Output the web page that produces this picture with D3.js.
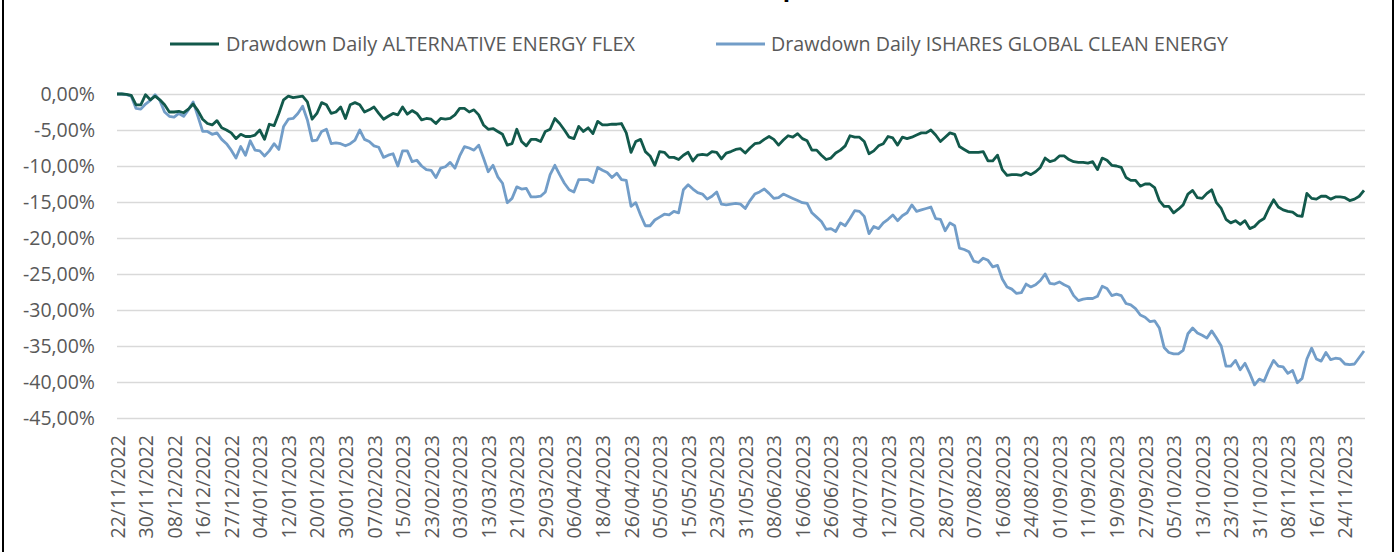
<!DOCTYPE html>
<html>
<head>
<meta charset="utf-8">
<script src="https://cdnjs.cloudflare.com/ajax/libs/d3/7.8.5/d3.min.js"></script>
<style>
body{margin:0;background:#fff;}
text{font-family:"Open Sans",sans-serif;}
</style>
</head>
<body>
<svg id="chart" width="1397" height="552"></svg>
<script>
// tick labels shown every 6 trading days
var tickLabels = ["22/11/2022","30/11/2022","08/12/2022","16/12/2022","27/12/2022","04/01/2023","12/01/2023","20/01/2023","30/01/2023","07/02/2023","15/02/2023","23/02/2023","03/03/2023","13/03/2023","21/03/2023","29/03/2023","06/04/2023","18/04/2023","26/04/2023","05/05/2023","15/05/2023","23/05/2023","31/05/2023","08/06/2023","16/06/2023","26/06/2023","04/07/2023","12/07/2023","20/07/2023","28/07/2023","07/08/2023","16/08/2023","24/08/2023","01/09/2023","11/09/2023","19/09/2023","27/09/2023","05/10/2023","13/10/2023","23/10/2023","31/10/2023","08/11/2023","16/11/2023","24/11/2023"];
var tickStep = 6;

var seriesNames = ["Drawdown Daily ALTERNATIVE ENERGY FLEX", "Drawdown Daily ISHARES GLOBAL CLEAN ENERGY"];

// drawdown in %
var altEnergy = [
0,0,-0.05,-0.2,-1.5,-1.5,-0.1,-0.8,-0.3,-0.8,
-1.5,-2.5,-2.5,-2.4,-2.6,-2.1,-1.4,-2.3,-3.5,-4.1,
-4.3,-3.7,-4.7,-5.0,-5.4,-6.2,-5.6,-5.9,-5.9,-5.7,
-5.0,-6.3,-4.2,-4.4,-2.7,-0.8,-0.3,-0.5,-0.4,-0.3,
-1.1,-3.5,-2.7,-1.2,-1.5,-2.7,-2.5,-1.8,-3.4,-1.5,
-1.2,-1.5,-2.5,-2.2,-1.8,-2.7,-3.5,-3.1,-2.7,-2.9,
-1.8,-2.8,-2.3,-2.7,-3.6,-3.4,-3.5,-4.1,-3.4,-3.5,
-3.4,-2.9,-2.0,-2.0,-2.5,-2.2,-2.9,-4.3,-4.9,-4.8,
-5.2,-5.6,-7.1,-6.9,-4.9,-6.6,-7.2,-6.3,-6.3,-6.6,
-5.2,-4.9,-3.4,-4.1,-5.0,-6.0,-6.2,-4.5,-5.2,-4.7,
-5.5,-3.8,-4.3,-4.3,-4.2,-4.2,-4.1,-5.4,-8.1,-6.6,
-6.3,-8.0,-8.6,-9.9,-8.0,-8.1,-8.8,-8.8,-9.1,-8.5,
-8.1,-9.3,-8.5,-8.4,-8.5,-8.0,-8.1,-9.0,-8.2,-8.0,
-7.7,-7.6,-8.2,-7.5,-6.9,-6.8,-6.3,-5.9,-6.3,-7.1,
-6.4,-5.8,-6.0,-5.5,-6.2,-6.5,-7.8,-7.8,-8.5,-9.1,
-8.9,-8.2,-7.8,-7.2,-5.8,-6.0,-6.0,-6.6,-8.3,-7.9,
-7.2,-6.9,-5.9,-6.1,-7.1,-6.0,-6.2,-6.0,-5.7,-5.4,
-5.4,-5.0,-5.7,-6.6,-6.0,-5.4,-5.6,-7.3,-7.7,-8.1,
-8.1,-8.1,-8.0,-9.3,-9.3,-8.5,-10.5,-11.3,-11.2,-11.2,
-11.3,-10.9,-11.2,-10.8,-10.2,-8.9,-9.4,-9.2,-8.6,-8.6,
-9.1,-9.4,-9.5,-9.5,-9.6,-9.4,-10.5,-8.9,-9.2,-9.9,
-10.0,-10.2,-11.6,-12.0,-12.0,-12.8,-12.5,-12.5,-13.0,-14.8,
-15.6,-15.6,-16.5,-16.0,-15.4,-13.9,-13.4,-14.4,-14.5,-13.8,
-13.3,-15.1,-15.9,-17.4,-17.9,-17.6,-18.1,-17.6,-18.7,-18.4,
-17.7,-17.3,-15.9,-14.7,-15.7,-16.1,-16.3,-16.4,-16.9,-17.0,
-13.8,-14.5,-14.6,-14.2,-14.2,-14.6,-14.3,-14.3,-14.4,-14.8,
-14.6,-14.2,-13.4
];

var cleanEnergy = [
0,0,-0.1,-0.3,-2.0,-2.1,-1.4,-0.9,-0.1,-0.9,
-2.5,-3.1,-3.2,-2.7,-3.1,-2.2,-1.1,-3.1,-5.2,-5.2,
-5.6,-5.4,-6.3,-6.9,-7.8,-8.9,-7.3,-8.5,-6.5,-7.8,
-7.9,-8.6,-7.9,-6.9,-7.7,-4.5,-3.5,-3.4,-2.7,-1.7,
-3.6,-6.5,-6.4,-5.2,-4.9,-6.9,-6.8,-6.9,-7.2,-6.9,
-6.4,-5.0,-6.3,-6.6,-7.2,-7.4,-8.8,-8.5,-8.3,-10.0,
-7.9,-7.9,-9.4,-9.2,-10.0,-10.5,-10.6,-11.6,-10.3,-10.1,
-9.5,-10.3,-8.6,-7.3,-7.5,-7.8,-7.1,-8.9,-10.8,-9.9,
-11.5,-12.4,-15.1,-14.5,-12.9,-13.2,-13.1,-14.3,-14.3,-14.2,
-13.6,-11.2,-9.9,-11.2,-12.4,-13.3,-13.6,-11.9,-11.9,-11.9,
-12.3,-10.2,-10.6,-10.9,-11.6,-11.0,-11.9,-12.0,-15.6,-15.1,
-16.8,-18.3,-18.3,-17.5,-17.1,-16.7,-16.8,-16.3,-16.5,-13.3,
-12.6,-13.2,-13.7,-13.9,-14.6,-14.2,-13.6,-15.3,-15.4,-15.3,
-15.2,-15.3,-15.9,-14.8,-13.9,-13.6,-13.2,-13.8,-14.5,-14.4,
-13.9,-14.2,-14.5,-14.8,-15.1,-15.2,-16.5,-17.1,-17.7,-18.8,
-18.7,-19.1,-17.9,-18.3,-17.3,-16.2,-16.3,-17.0,-19.4,-18.4,
-18.7,-17.9,-17.4,-16.8,-17.6,-16.9,-16.5,-15.4,-16.3,-16.1,
-15.9,-15.7,-17.3,-17.4,-19.0,-17.9,-18.3,-21.4,-21.6,-21.9,
-23.2,-23.4,-22.8,-23.1,-24.0,-23.8,-25.7,-26.8,-27.1,-27.7,
-27.6,-26.4,-26.8,-26.5,-25.9,-25.0,-26.3,-26.4,-26.1,-26.5,
-26.8,-28.0,-28.7,-28.5,-28.4,-28.4,-28.1,-26.7,-27.0,-28.0,
-27.8,-28.0,-29.1,-29.3,-29.8,-30.7,-31.0,-31.6,-31.5,-32.5,
-35.2,-35.9,-36.1,-36.1,-35.6,-33.3,-32.5,-33.2,-33.5,-33.9,
-32.9,-33.9,-35.0,-37.8,-37.8,-37.0,-38.3,-37.4,-38.8,-40.4,
-39.6,-39.9,-38.3,-37.0,-37.8,-37.9,-38.8,-38.4,-40.1,-39.5,
-36.8,-35.3,-36.8,-37.1,-35.9,-36.9,-36.7,-36.8,-37.5,-37.6,
-37.5,-36.6,-35.7
];

var yTicks = [0,-5,-10,-15,-20,-25,-30,-35,-40,-45];
var colors = ["#12594b", "#729dc8"];

var svg = d3.select("#chart");
var plotLeft = 117, plotRight = 1365, plotTop = 94, plotBottom = 418;

// frame (top/bottom run past the picture)
svg.append("rect")
  .attr("x", 3).attr("y", -20)
  .attr("width", 1390).attr("height", 600)
  .attr("fill", "none").attr("stroke", "#000").attr("stroke-width", 2);

var x = d3.scaleLinear().domain([0, altEnergy.length - 1]).range([plotLeft, plotRight - 1]);
var y = d3.scaleLinear().domain([-45, 0]).range([plotBottom, plotTop]);

var loc = d3.formatLocale({decimal: ",", thousands: ".", grouping: [3], currency: ["", "€"], minus: "-"});
var fmt = loc.format(".2f");

// gridlines
var grid = svg.append("g").attr("transform", "translate(" + plotLeft + ",0)")
  .call(d3.axisLeft(y).tickValues(yTicks).tickSize(-(plotRight - plotLeft)).tickFormat(""));
grid.select(".domain").remove();
grid.selectAll("line").attr("stroke", "#d9d9d9").attr("stroke-width", 1.4);

// y axis labels
var yAxis = svg.append("g").attr("transform", "translate(95,0)")
  .call(d3.axisLeft(y).tickValues(yTicks).tickSize(0).tickPadding(0).tickFormat(function(d){ return fmt(d) + "%"; }));
yAxis.select(".domain").remove();
yAxis.selectAll("text").attr("fill", "#595959").style("font-size", "19.5px").style("font-family", "'Open Sans', sans-serif");

// x axis labels
var tickIdx = tickLabels.map(function(d, i){ return i * tickStep; });
var xAxis = svg.append("g").attr("transform", "translate(0," + plotBottom + ")")
  .call(d3.axisBottom(x).tickValues(tickIdx).tickSize(0).tickFormat(function(d){ return tickLabels[d / tickStep]; }));
xAxis.select(".domain").remove();
xAxis.selectAll("text")
  .attr("fill", "#595959")
  .style("font-size", "19.5px").style("font-family", "'Open Sans', sans-serif")
  .attr("text-anchor", "end")
  .attr("transform", "rotate(-90)")
  .attr("x", -17).attr("y", 0).attr("dy", "0.36em");

// lines
var line = d3.line()
  .x(function(d, i){ return x(i); })
  .y(function(d){ return y(d); });

[cleanEnergy, altEnergy].forEach(function(s, k){
  svg.append("path")
    .datum(s)
    .attr("d", line)
    .attr("fill", "none")
    .attr("stroke", k === 0 ? colors[1] : colors[0])
    .attr("stroke-width", 2.8)
    .attr("stroke-linejoin", "round");
});

// legend
var legendItems = [
  {name: seriesNames[0], color: colors[0], lx: 170, tx: 226, len: 409},
  {name: seriesNames[1], color: colors[1], lx: 716, tx: 771, len: 457}
];
var lg = svg.append("g").selectAll("g").data(legendItems).enter().append("g");
lg.append("line")
  .attr("x1", function(d){ return d.lx; }).attr("x2", function(d){ return d.lx + 49; })
  .attr("y1", 44).attr("y2", 44)
  .attr("stroke", function(d){ return d.color; }).attr("stroke-width", 2.8);
lg.append("text")
  .attr("x", function(d){ return d.tx; }).attr("y", 51)
  .attr("fill", "#595959").style("font-size", "19.5px")
  .attr("textLength", function(d){ return d.len; })
  .attr("lengthAdjust", "spacingAndGlyphs")
  .text(function(d){ return d.name; });

// title, mostly above the visible area
var title = svg.append("text")
  .attr("x", 0).attr("y", -4)
  .attr("fill", "#000").style("font-size", "24px").style("font-weight", "bold")
  .text("Drawdown Comparison");
var pPos = title.node().getStartPositionOfChar(13).x;
title.attr("x", 798 - pPos);
</script>
</body>
</html>
